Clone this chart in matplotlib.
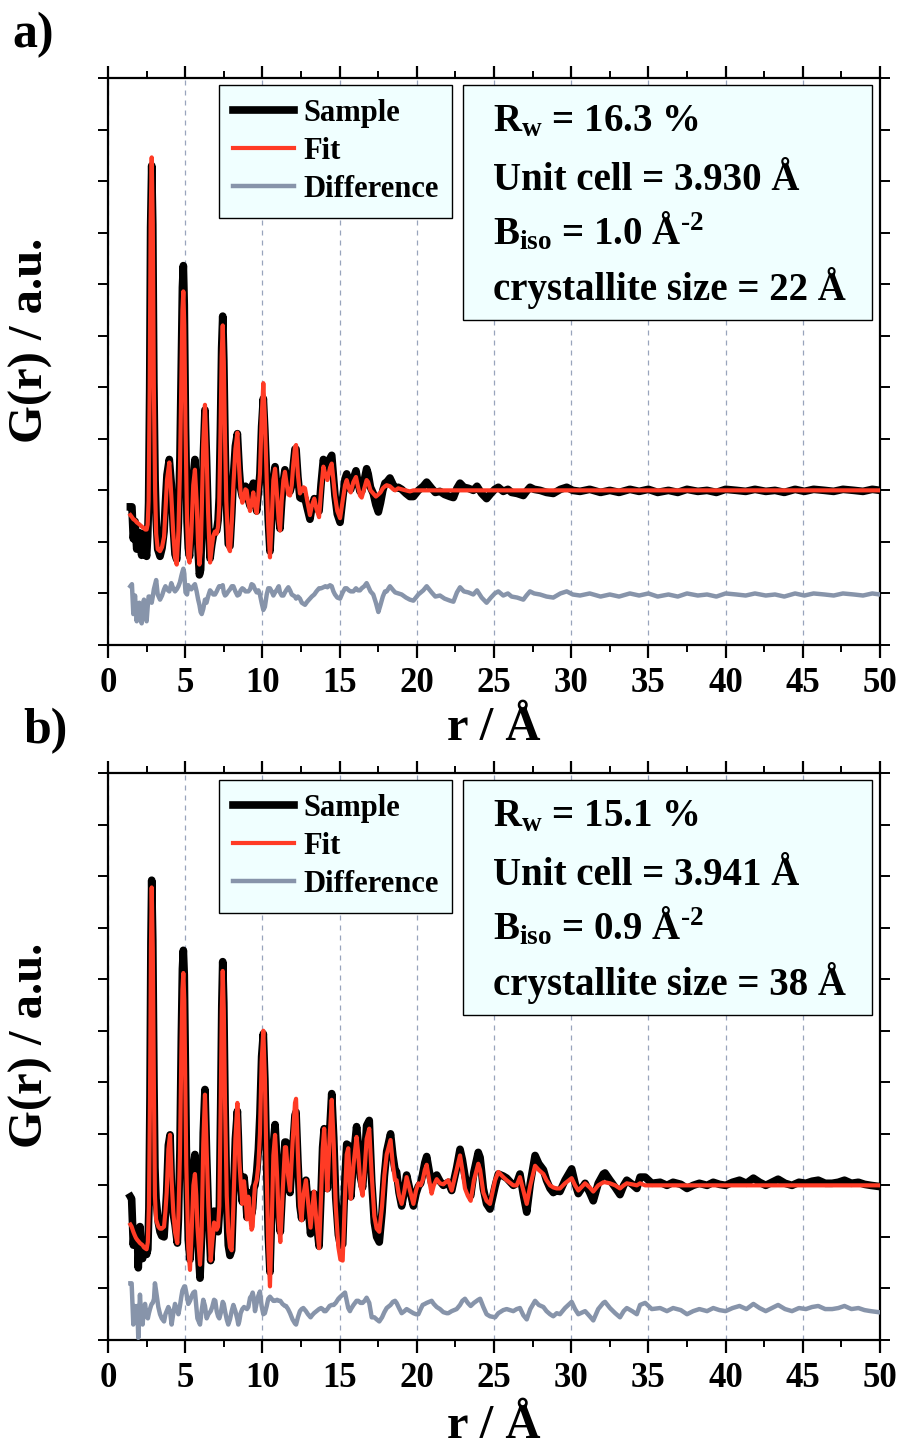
import matplotlib
matplotlib.use("Agg")
import matplotlib.pyplot as plt
from matplotlib.patches import Rectangle
import numpy as np

plt.rcParams.update({
    "font.family": ["Liberation Serif", "DejaVu Serif"],
    "font.weight": "bold",
    "mathtext.fontset": "custom",
    "mathtext.rm": "Liberation Serif:bold",
    "mathtext.it": "Liberation Serif:bold",
    "mathtext.bf": "Liberation Serif:bold",
})

# ---------------- data: panel a ----------------
r_a = [1.45, 1.55, 1.64, 1.75, 1.86, 1.95, 2.03, 2.10, 2.18, 2.26, 2.33, 2.42, 2.50, 2.57, 2.63,
       2.70, 2.76, 2.83, 2.90, 2.97, 3.05, 3.12, 3.22, 3.37, 3.50, 3.63, 3.72, 3.82, 3.97, 4.10,
       4.22, 4.34, 4.45, 4.56, 4.66, 4.75, 4.82, 4.88, 4.94, 5.02, 5.12, 5.20, 5.28, 5.40, 5.52,
       5.63, 5.74, 5.84, 5.92, 6.00, 6.07, 6.17, 6.28, 6.38, 6.48, 6.61, 6.72, 6.82, 6.93, 7.04,
       7.13, 7.20, 7.28, 7.36, 7.43, 7.50, 7.58, 7.66, 7.79, 7.90, 8.02, 8.12, 8.25, 8.38, 8.50,
       8.59, 8.70, 8.80, 8.90, 8.98, 9.09, 9.20, 9.30, 9.41, 9.52, 9.63, 9.74, 9.84, 9.95, 10.06,
       10.16, 10.28, 10.38, 10.49, 10.60, 10.71, 10.82, 10.95, 11.06, 11.14, 11.25, 11.36, 11.46,
       11.58, 11.68, 11.79, 11.90, 12.00, 12.11, 12.18, 12.30, 12.43, 12.55, 12.66, 12.76, 12.90,
       13.08, 13.20, 13.36, 13.50, 13.67, 13.80, 13.95, 14.08, 14.21, 14.38, 14.49, 14.60, 14.70,
       14.85, 15.03, 15.20, 15.35, 15.46, 15.60, 15.72, 15.89, 16.06, 16.20, 16.32, 16.43, 16.60,
       16.75, 16.85, 17.00, 17.18, 17.35, 17.51, 17.65, 17.80, 17.94, 18.05, 18.26, 18.48, 18.60,
       18.80, 19.02, 19.30, 19.55, 19.78, 20.10, 20.42, 20.64, 20.96, 21.20, 21.50, 21.80, 22.15,
       22.37, 22.60, 22.80, 23.05, 23.34, 23.66, 23.90, 24.20, 24.52, 24.80, 25.05, 25.28, 25.60,
       25.90, 26.14, 26.50, 26.90, 27.10, 27.33, 27.60, 27.98, 28.40, 28.84, 29.30, 29.71, 30.10,
       30.57, 31.20, 31.90, 32.50, 33.10, 33.80, 34.40, 35.00, 35.60, 36.30, 36.90, 37.50, 38.20,
       38.80, 39.40, 40.00, 40.70, 41.30, 41.90, 42.60, 43.20, 43.80, 44.50, 45.10, 45.70, 46.40,
       47.00, 47.60, 48.30, 48.90, 49.50, 50.00]
fit_a = [-0.24, -0.26, -0.28, -0.29, -0.31, -0.32, -0.33, -0.34, -0.35, -0.36, -0.37, -0.38, -0.38, -0.33, -0.10,
         1.00, 2.60, 3.23, 2.60, 1.00, 0.00, -0.42, -0.57, -0.59, -0.55, -0.45, -0.20, 0.10, 0.27, -0.05,
         -0.40, -0.65, -0.72, -0.40, 0.20, 1.10, 1.75, 1.93, 1.60, 0.60, -0.30, -0.65, -0.70, -0.40, 0.05,
         0.20, -0.10, -0.55, -0.72, -0.60, -0.20, 0.45, 0.83, 0.40, -0.20, -0.70, -0.55, -0.44, -0.40, -0.42,
         -0.35, -0.15, 0.50, 1.30, 1.60, 1.25, 0.50, -0.10, -0.55, -0.59, -0.30, 0.05, 0.40, 0.56, 0.20,
         -0.02, -0.12, -0.08, 0.01, 0.00, -0.12, -0.20, -0.12, -0.02, -0.15, -0.22, -0.05, 0.16, 0.70, 1.04,
         0.70, 0.10, -0.35, -0.65, -0.30, 0.10, 0.21, -0.05, -0.30, -0.39, -0.10, 0.10, 0.18,
         0.05, -0.04, -0.05, 0.05, 0.25, 0.42, 0.44, 0.15, -0.03, 0.00, 0.03, 0.02, -0.10,
         -0.24, -0.15, -0.08, -0.18, -0.26, 0.00, 0.23, 0.15, 0.10, 0.22, 0.26, 0.10, -0.05,
         -0.20, -0.27, -0.10, 0.05, 0.10, 0.02, -0.02, 0.08, 0.13, 0.03, -0.05, -0.07, 0.02,
         0.10, 0.08, 0.00, -0.03, -0.06, -0.04, -0.02, 0.02, 0.04, 0.05, 0.04, 0.01, 0.00,
         0.02, 0.01, 0.00, -0.01, 0.00, 0.00, 0.00, 0.00, 0.00, 0.00, 0.00, 0.00, 0.00,
         0.00, 0.00, 0.00, 0.00, 0.00, 0.00, 0.00, 0.00, 0.00, 0.00, 0.00, 0.00, 0.00,
         0.00, 0.00, 0.00, 0.00, 0.00, 0.00, 0.00, 0.00, 0.00, 0.00, 0.00, 0.00, 0.00,
         0.00, 0.00, 0.00, 0.00, 0.00, 0.00, 0.00, 0.00, 0.00, 0.00, 0.00, 0.00, 0.00,
         0.00, 0.00, 0.00, 0.00, 0.00, 0.00, 0.00, 0.00, 0.00, 0.00, 0.00, 0.00, 0.00,
         0.00, 0.00, 0.00, 0.00, 0.00, 0.00]
diff_a = [0.08, 0.10, -0.19, -0.01, -0.26, -0.10, -0.08, -0.20, -0.28, -0.10, -0.05, -0.20, -0.26, -0.12, -0.02,
          -0.02, -0.05, -0.08, -0.02, 0.05, 0.10, 0.14, 0.00, -0.05, -0.01, 0.05, 0.08, 0.05, 0.03, 0.11,
          0.06, 0.03, 0.05, 0.08, 0.12, 0.18, 0.22, 0.25, 0.20, 0.02, 0.00, 0.09, 0.06, 0.05, 0.08,
          0.10, 0.03, -0.05, -0.10, -0.17, -0.19, -0.14, -0.05, -0.08, -0.02, 0.04, 0.02, 0.00, 0.00, 0.03,
          0.06, 0.08, 0.08, 0.08, 0.09, 0.02, -0.01, 0.00, 0.03, 0.05, 0.08, 0.08, 0.03, -0.01, 0.00,
          0.04, 0.06, 0.05, 0.03, 0.03, 0.03, 0.05, 0.10, 0.09, 0.05, 0.02, 0.04, 0.00, -0.08, -0.15,
          -0.12, 0.00, 0.06, 0.06, 0.03, -0.01, 0.02, 0.05, 0.08, 0.02, -0.01, -0.01, 0.02,
          0.05, 0.07, 0.04, 0.00, -0.01, -0.02, -0.04, -0.02, -0.04, -0.08, -0.09, -0.10, -0.07,
          -0.04, -0.02, 0.00, 0.03, 0.06, 0.06, 0.07, 0.08, 0.07, 0.09, 0.08, 0.03, 0.00,
          -0.03, -0.04, 0.02, 0.06, 0.06, 0.04, 0.03, 0.03, 0.06, 0.04, 0.04, 0.06, 0.08,
          0.11, 0.08, 0.03, 0.00, -0.08, -0.17, -0.10, -0.02, 0.03, 0.03, 0.08, 0.04, 0.02,
          0.01, 0.00, -0.03, -0.05, -0.06, 0.00, 0.04, 0.08, 0.02, -0.02, -0.01, -0.04, -0.06,
          -0.07, 0.02, 0.07, 0.03, 0.02, 0.00, 0.04, -0.03, -0.08, -0.03, 0.01, 0.03, -0.01,
          0.01, -0.02, -0.03, -0.05, -0.01, 0.03, 0.01, 0.00, -0.02, -0.03, 0.01, 0.03, 0.00,
          -0.01, 0.01, -0.02, 0.00, -0.02, 0.01, -0.01, 0.01, -0.02, 0.00, -0.02, 0.01, -0.01,
          0.00, -0.02, 0.01, 0.00, -0.01, 0.01, -0.01, 0.00, -0.02, 0.01, -0.01, 0.01, 0.00,
          -0.01, 0.01, 0.00, -0.01, 0.01, 0.00]

# ---------------- data: panel b ----------------
r_b = [1.45, 1.53, 1.64, 1.72, 1.81, 1.90, 1.96, 2.07, 2.15, 2.24, 2.32, 2.40, 2.50, 2.58, 2.65,
       2.72, 2.78, 2.83, 2.90, 2.98, 3.04, 3.11, 3.26, 3.37, 3.48, 3.63, 3.72, 3.80, 3.91, 4.02,
       4.12, 4.23, 4.34, 4.49, 4.56, 4.66, 4.75, 4.82, 4.88, 4.94, 4.99, 5.07, 5.20, 5.31, 5.43,
       5.53, 5.63, 5.72, 5.79, 5.96, 6.06, 6.17, 6.28, 6.39, 6.50, 6.65, 6.75, 6.87, 6.95, 7.04,
       7.13, 7.21, 7.30, 7.37, 7.43, 7.50, 7.58, 7.69, 7.79, 7.90, 8.01, 8.12, 8.25, 8.38, 8.44,
       8.50, 8.59, 8.70, 8.81, 8.90, 9.00, 9.09, 9.20, 9.30, 9.37, 9.45, 9.52, 9.63, 9.74, 9.84,
       9.95, 10.06, 10.16, 10.28, 10.38, 10.49, 10.60, 10.71, 10.82, 10.95, 11.06, 11.16, 11.30,
       11.46, 11.53, 11.66, 11.79, 11.95, 12.11, 12.18, 12.30, 12.43, 12.54, 12.65, 12.82, 12.95,
       13.12, 13.22, 13.34, 13.50, 13.67, 13.80, 13.90, 14.00, 14.10, 14.21, 14.35, 14.49, 14.62,
       14.75, 14.92, 15.05, 15.20, 15.35, 15.46, 15.56, 15.67, 15.73, 15.90, 16.10, 16.21, 16.35,
       16.49, 16.62, 16.75, 16.92, 17.08, 17.25, 17.40, 17.57, 17.75, 17.90, 18.05, 18.30, 18.45,
       18.59, 18.69, 18.85, 19.02, 19.20, 19.34, 19.56, 19.78, 19.95, 20.10, 20.25, 20.38, 20.52,
       20.64, 20.80, 20.96, 21.10, 21.29, 21.50, 21.72, 21.94, 22.04, 22.26, 22.58, 22.80, 22.95,
       23.12, 23.30, 23.49, 23.70, 23.98, 24.10, 24.31, 24.52, 24.74, 25.07, 25.28, 25.60, 25.82,
       26.25, 26.47, 26.68, 26.90, 27.12, 27.35, 27.66, 27.90, 28.20, 28.40, 28.63, 28.84, 29.06,
       29.27, 29.60, 30.03, 30.25, 30.46, 30.90, 31.20, 31.43, 31.75, 32.08, 32.19, 32.51, 32.85,
       33.16, 33.40, 33.60, 33.95, 34.25, 34.46, 34.79, 35.22, 35.76, 36.20, 36.60, 37.10, 37.50,
       37.90, 38.30, 38.80, 39.20, 39.60, 40.00, 40.45, 40.90, 41.35, 41.80, 42.20, 42.60, 43.00,
       43.40, 43.85, 44.30, 44.75, 45.20, 45.60, 46.00, 46.45, 46.90, 47.30, 47.70, 48.15, 48.60,
       49.00, 49.40, 49.90]
fit_b = [-0.38, -0.40, -0.45, -0.48, -0.51, -0.53, -0.54, -0.56, -0.57, -0.58, -0.60, -0.61, -0.62, -0.55, -0.20,
         0.84, 2.30, 2.89, 2.30, 0.84, -0.10, -0.33, -0.40, -0.42, -0.42, -0.40, -0.25, -0.07, 0.35, 0.49,
         0.05, -0.26, -0.45, -0.56, -0.30, 0.30, 1.30, 1.90, 2.06, 1.80, 1.20, 0.20, -0.60, -0.82, -0.40,
         0.00, 0.11, -0.10, -0.40, -0.77, -0.50, 0.40, 0.88, 0.35, -0.20, -0.73, -0.55, -0.36, -0.38, -0.43,
         -0.40, -0.20, 0.80, 1.70, 2.08, 1.70, 0.80, -0.10, -0.45, -0.60, -0.63, -0.20, 0.45, 0.80, 0.60,
         0.25, 0.04, -0.18, 0.04, -0.10, -0.33, -0.11, -0.30, -0.43, -0.40, -0.14, 0.00, 0.05, 0.20, 0.50,
         1.20, 1.50, 1.05, 0.10, -0.60, -0.98, -0.40, 0.29, 0.49, 0.10, -0.35, -0.55, -0.10,
         0.37, 0.37, 0.10, -0.05, 0.40, 0.80, 0.84, 0.30, -0.20, -0.34, -0.10, 0.05, -0.15,
         -0.41, -0.25, -0.06, -0.35, -0.61, -0.10, 0.35, 0.55, 0.25, -0.05, 0.45, 0.83, 0.40,
         -0.20, -0.60, -0.72, -0.73, -0.10, 0.30, 0.36, 0.00, -0.13, 0.20, 0.47, 0.30, 0.00,
         -0.10, 0.15, 0.45, 0.55, 0.10, -0.30, -0.42, -0.45, -0.20, 0.10, 0.30, 0.44, 0.20,
         0.05, 0.05, -0.10, -0.18, -0.05, 0.08, -0.05, -0.18, -0.05, 0.02, 0.00, 0.05, 0.15,
         0.20, 0.05, -0.08, 0.00, 0.06, 0.02, 0.01, 0.04, 0.05, -0.05, 0.15, 0.29, 0.15,
         -0.03, -0.10, -0.15, 0.05, 0.21, 0.15, -0.07, -0.15, -0.18, 0.05, 0.13, 0.08, 0.05,
         0.00, 0.00, 0.08, -0.05, -0.18, 0.00, 0.19, 0.15, 0.11, 0.05, 0.00, -0.02, -0.03,
         -0.03, 0.02, 0.07, 0.00, -0.05, 0.02, -0.02, -0.06, 0.00, 0.03, 0.03, 0.02, 0.00,
         -0.03, 0.00, 0.02, 0.01, 0.00, 0.02, 0.00, 0.00, 0.00, 0.00, 0.00, 0.00, 0.00,
         0.00, 0.00, 0.00, 0.00, 0.00, 0.00, 0.00, 0.00, 0.00, 0.00, 0.00, 0.00, 0.00,
         0.00, 0.00, 0.00, 0.00, 0.00, 0.00, 0.00, 0.00, 0.00, 0.00, 0.00, 0.00, 0.00,
         0.00, 0.00, 0.00]
diff_b = [0.27, 0.27, -0.13, 0.05, -0.03, 0.05, -0.26, 0.16, -0.05, -0.13, 0.02, 0.07, -0.05, -0.07, -0.02,
          0.02, 0.05, 0.07, 0.08, 0.12, 0.27, 0.20, 0.04, -0.03, -0.07, -0.10, -0.03, 0.00, 0.04, 0.00,
          -0.13, -0.02, 0.07, 0.00, -0.03, 0.05, 0.14, 0.20, 0.22, 0.24, 0.24, 0.18, 0.07, 0.10, 0.15,
          0.18, 0.19, 0.05, -0.07, -0.13, 0.00, 0.11, 0.05, -0.07, -0.03, 0.00, 0.04, 0.11, 0.10, 0.00,
          -0.05, -0.07, -0.02, 0.04, 0.09, 0.07, 0.00, -0.08, -0.13, -0.08, 0.00, 0.06, 0.00, -0.08, -0.13,
          -0.10, -0.02, 0.02, 0.04, 0.03, 0.02, 0.04, 0.13, 0.15, 0.18, 0.12, 0.00, 0.08, 0.15, 0.19,
          0.05, -0.03, -0.02, 0.05, 0.12, 0.14, 0.12, 0.10, 0.10, 0.11, 0.10, 0.10, 0.07,
          0.05, 0.05, 0.02, -0.02, -0.08, -0.12, -0.13, -0.06, 0.00, 0.02, 0.03, 0.00, -0.03,
          -0.06, -0.04, -0.02, 0.00, 0.02, 0.03, 0.02, 0.00, 0.00, 0.02, 0.05, 0.06, 0.06,
          0.08, 0.12, 0.14, 0.16, 0.18, 0.10, 0.03, 0.00, 0.02, 0.06, 0.10, 0.10, 0.08,
          0.08, 0.10, 0.13, 0.08, -0.06, -0.06, -0.08, -0.10, -0.06, -0.01, 0.03, 0.06, 0.09,
          0.10, 0.08, 0.03, -0.02, 0.00, 0.02, 0.00, -0.02, -0.03, -0.03, 0.02, 0.06, 0.07,
          0.08, 0.09, 0.10, 0.07, 0.04, 0.02, -0.01, -0.02, -0.02, 0.00, 0.02, 0.06, 0.10,
          0.12, 0.08, 0.05, 0.08, 0.11, 0.12, 0.04, -0.03, -0.05, -0.06, -0.02, 0.01, 0.02,
          0.00, 0.02, 0.03, -0.04, -0.08, 0.02, 0.10, 0.06, 0.04, 0.00, -0.03, -0.05, -0.02,
          -0.03, 0.03, 0.09, 0.02, -0.03, 0.00, -0.05, -0.09, 0.02, 0.08, 0.09, 0.03, -0.02,
          -0.06, 0.00, 0.03, 0.00, -0.03, 0.06, 0.08, 0.02, 0.03, 0.00, 0.03, 0.01, -0.03,
          0.00, 0.02, 0.00, 0.03, 0.01, 0.00, 0.03, 0.05, 0.02, 0.07, 0.03, 0.00, 0.03,
          0.06, 0.02, 0.00, 0.03, 0.02, 0.04, 0.05, 0.02, 0.02, 0.03, 0.05, 0.02, 0.03,
          0.01, 0.00, -0.01]

labels = ["Sample", "Fit", "Difference"]
info_a = [r"R$_{\mathrm{w}}$ = 16.3 %", "Unit cell = 3.930 Å",
          "B$_{\\mathrm{iso}}$ = 1.0 Å$^{\\mathrm{\u2010}\\mathrm{2}}$", "crystallite size = 22 Å"]
info_b = [r"R$_{\mathrm{w}}$ = 15.1 %", "Unit cell = 3.941 Å",
          "B$_{\\mathrm{iso}}$ = 0.9 Å$^{\\mathrm{\u2010}\\mathrm{2}}$", "crystallite size = 38 Å"]
diff_offset_a = -1.01
diff_offset_b = -1.22

C_SAMPLE = "black"
C_FIT = "#FF3B25"
C_DIFF = "#8794AA"
C_BOX = "#F0FFFF"

W, H = 901, 1449
fig = plt.figure(figsize=(W / 100, H / 100), dpi=100)

def ax_rect(top_px, bottom_px, left_px=108, right_px=880):
    return [left_px / W, 1 - bottom_px / H, (right_px - left_px) / W, (bottom_px - top_px) / H]

ax_a = fig.add_axes(ax_rect(78, 645))
ax_b = fig.add_axes(ax_rect(773, 1340))


def draw(ax, r, fit, diff, offset, info):
    r = np.asarray(r)
    fit = np.asarray(fit)
    diff = np.asarray(diff)
    sample = fit + diff
    ax.plot(r, sample, color=C_SAMPLE, lw=5.5, label=labels[0], zorder=3,
            solid_joinstyle="round")
    ax.plot(r, fit, color=C_FIT, lw=3.0, label=labels[1], zorder=4,
            solid_joinstyle="round")
    ax.plot(r, diff + offset, color=C_DIFF, lw=3.2, label=labels[2], zorder=3,
            solid_joinstyle="round")
    ax.set_xlim(0, 50)
    ax.set_ylim(-1.5, 4.0)
    ax.set_xticks(np.arange(0, 51, 5))
    ax.set_xticks(np.arange(0, 50.01, 2.5), minor=True)
    ax.set_yticks(np.arange(-1.5, 4.01, 0.5))
    ax.set_yticklabels([])
    ax.tick_params(axis="x", which="major", direction="out", length=9, width=1.6,
                   top=True, labelsize=25, pad=7)
    ax.tick_params(axis="x", which="minor", direction="out", length=5, width=1.4, top=True)
    ax.tick_params(axis="y", which="major", direction="out", length=7, width=1.4,
                   right=True)
    for s in ax.spines.values():
        s.set_linewidth(1.6)
    ax.grid(True, axis="x", which="major", linestyle=(0, (4, 4)), color="#98A4BC",
            lw=0.9, zorder=0)
    ax.set_axisbelow(True)

    leg = ax.legend(loc="upper left", bbox_to_anchor=(0.1438, 0.9877), fontsize=22,
                    frameon=True, fancybox=False, edgecolor="black", facecolor=C_BOX,
                    framealpha=1, handlelength=2.0, handletextpad=0.3,
                    labelspacing=0.3, borderpad=0.45, borderaxespad=0)
    leg.get_frame().set_linewidth(1.0)
    leg.set_zorder(10)

    box = Rectangle((0.4598, 0.5732), 0.5298, 0.4145, transform=ax.transAxes,
                    facecolor=C_BOX, edgecolor="black", lw=1.0, zorder=10)
    ax.add_patch(box)
    ys = [0.9065, 0.8025, 0.7072, 0.6085]
    for txt, yy in zip(info, ys):
        ax.text(0.4987, yy, txt, transform=ax.transAxes, fontsize=28,
                va="baseline", ha="left", zorder=11)


draw(ax_a, r_a, fit_a, diff_a, diff_offset_a, info_a)
draw(ax_b, r_b, fit_b, diff_b, diff_offset_b, info_b)

fig.text(33 / W, 1 - 35 / H, "a)", fontsize=36, ha="center", va="center")
fig.text(45 / W, 1 - 731 / H, "b)", fontsize=36, ha="center", va="center")
fig.text(31 / W, 1 - 340 / H, "G(r) / a.u.", fontsize=35, rotation=90,
         ha="center", va="center")
fig.text(31 / W, 1 - 1045 / H, "G(r) / a.u.", fontsize=35, rotation=90,
         ha="center", va="center")
fig.text(494 / W, 1 - 728 / H, "r / Å", fontsize=35, ha="center", va="center")
fig.text(494 / W, 1 - 1426 / H, "r / Å", fontsize=35, ha="center", va="center")

fig.savefig("out.png", dpi=100)
